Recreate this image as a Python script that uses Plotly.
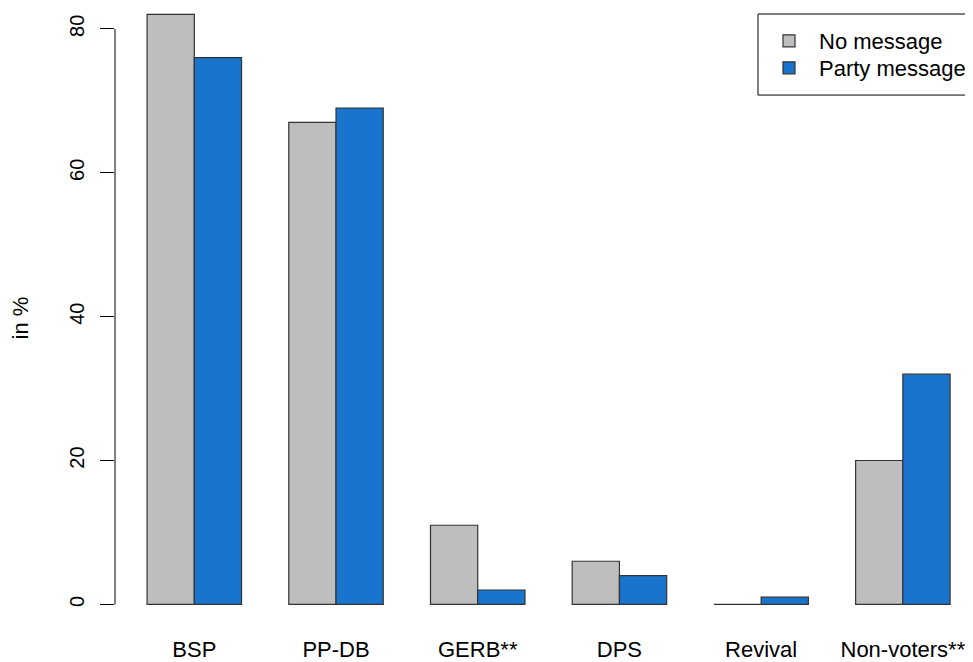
import plotly.graph_objects as go

categories = ["BSP", "PP-DB", "GERB**", "DPS", "Revival", "Non-voters**"]
no_message = [82, 67, 11, 6, 0, 20]
party_message = [76, 69, 2, 4, 1, 32]
series_names = ["No message", "Party message"]
y_ticks = [0, 20, 40, 60, 80]

OFF = 8  # page body margin
W, H = 973 - OFF, 662 - OFF
L, R, T, B = 115 - OFF, 0, 0, 34.4
plot_w = W - L - R
plot_h = H - T - B

def px_x(p):
    # p: reference screen pixel
    return (p - OFF - L) / plot_w

def px_y(p):
    return (H - B - (p - OFF)) / plot_h

fig = go.Figure()
fig.add_trace(go.Bar(x=categories, y=no_message, name=series_names[0], legend="legend",
                     marker=dict(color="#BEBEBE", line=dict(color="#333333", width=1.2))))
fig.add_trace(go.Bar(x=categories, y=party_message, name=series_names[1], legend="legend2",
                     marker=dict(color="#1874CD", line=dict(color="#333333", width=1.2))))

leg_common = dict(xanchor="left", yanchor="top", bgcolor="rgba(0,0,0,0)",
                  borderwidth=0, itemwidth=50, font=dict(size=22))

fig.update_layout(
    width=W, height=H,
    margin=dict(l=L, r=R, t=T, b=B, autoexpand=False),
    paper_bgcolor="white", plot_bgcolor="white",
    barmode="group", bargap=1/3, bargroupgap=0,
    font=dict(family="Liberation Sans, Arial, sans-serif", color="black", size=21),
    showlegend=True,
    legend=dict(x=px_x(759), y=px_y(20), **leg_common),
    legend2=dict(x=px_x(759), y=px_y(47), **leg_common),
    shapes=[
        dict(type="rect", xref="paper", yref="paper",
             x0=px_x(758), x1=px_x(972), y0=px_y(95), y1=px_y(14),
             line=dict(color="black", width=1), fillcolor="rgba(0,0,0,0)"),
        dict(type="line", xref="paper", yref="y", x0=0, x1=0,
             y0=min(y_ticks), y1=max(y_ticks), line=dict(color="black", width=1)),
    ],
)

fig.update_xaxes(
    type="category", range=[-0.5596, 5.495],
    showgrid=False, showline=False, zeroline=False,
    ticks="", ticklabelstandoff=6,
    tickfont=dict(size=22), automargin=False,
)
fig.update_yaxes(
    range=[-3.28, 82.9], tickvals=y_ticks, ticktext=[str(v) for v in y_ticks],
    showgrid=False, showline=False, zeroline=False,
    ticks="outside", ticklen=14, tickcolor="black", tickwidth=1,
    tickangle=-90, tickfont=dict(size=20), ticklabelstandoff=8,
    title=dict(text="in %", font=dict(size=22), standoff=34),
    automargin=False,
)

fig.write_html("out.html")
